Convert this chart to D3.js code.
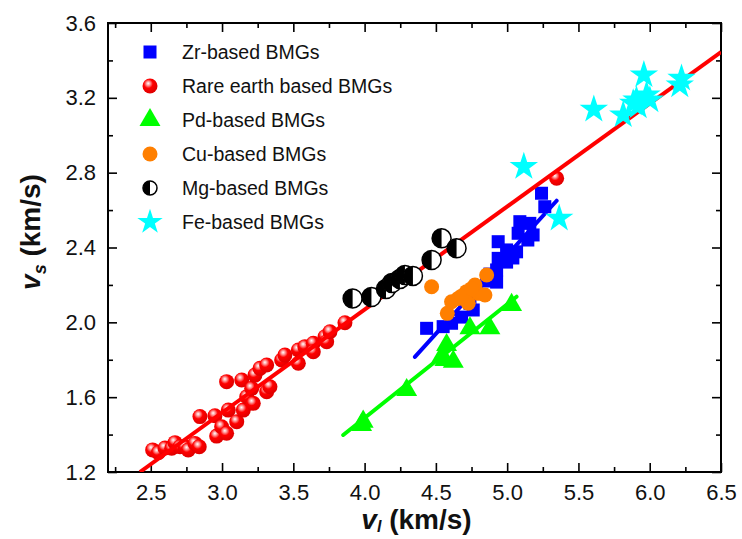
<!DOCTYPE html>
<html>
<head>
<meta charset="utf-8">
<script src="https://cdn.jsdelivr.net/npm/d3@7"></script>
<style>
  body { margin: 0; background: #fff; }
  svg { font-family: "Liberation Sans", Arial, sans-serif; }
</style>
</head>
<body>
<div id="chart"></div>
<script>
var svgWidth = 742;
var svgHeight = 539;

// plot box in pixels
var margin = { top: 23, right: 21, bottom: 67, left: 108 };
var width = svgWidth - margin.left - margin.right;
var height = svgHeight - margin.top - margin.bottom;

// ticks
var xTicks = [2.5, 3.0, 3.5, 4.0, 4.5, 5.0, 5.5, 6.0, 6.5];
var xMinor = [2.25, 2.75, 3.25, 3.75, 4.25, 4.75, 5.25, 5.75, 6.25];
var yTicks = [1.2, 1.6, 2.0, 2.4, 2.8, 3.2, 3.6];
var yMinor = [1.4, 1.8, 2.2, 2.6, 3.0, 3.4];

// data: [vl, vs]
var zrData = [[4.435,1.968],[4.551,1.977],[4.610,1.995],[4.680,2.028],[4.762,2.066],[4.739,2.102],
  [4.786,2.173],[4.856,2.221],[4.879,2.258],[4.926,2.280],[4.926,2.215],[4.937,2.342],[4.996,2.322],
  [4.937,2.431],[4.996,2.387],[5.066,2.377],[5.040,2.344],[5.077,2.476],[5.089,2.538],[5.159,2.529],
  [5.182,2.467],[5.145,2.440],[5.241,2.690],[5.264,2.618]];
var reData = [[2.513,1.318],[2.553,1.303],[2.600,1.328],[2.647,1.327],[2.670,1.357],[2.705,1.335],
  [2.740,1.335],[2.763,1.318],[2.810,1.353],[2.840,1.335],[2.845,1.496],[2.950,1.501],[2.962,1.392],
  [2.997,1.442],[3.032,1.407],[3.032,1.683],[3.044,1.531],[3.103,1.469],[3.138,1.692],[3.149,1.531],
  [3.173,1.602],[3.208,1.647],[3.219,1.567],[3.231,1.718],[3.266,1.754],[3.313,1.772],[3.313,1.629],
  [3.336,1.656],[3.418,1.799],[3.441,1.825],[3.535,1.781],[3.535,1.852],[3.581,1.870],[3.640,1.888],
  [3.640,1.843],[3.722,1.923],[3.734,1.896],[3.757,1.950],[3.862,1.998],[5.347,2.770]];
var pdData = [[3.979,1.451],[3.990,1.469],[4.295,1.638],[4.575,1.879],[4.540,1.816],[4.563,1.799],
  [4.622,1.790],[4.739,1.968],[4.879,1.968],[5.031,2.093]];
var cuData = [[4.470,2.190],[4.580,2.048],[4.610,2.110],[4.657,2.128],[4.715,2.164],[4.727,2.102],
  [4.774,2.199],[4.797,2.155],[4.844,2.146],[4.856,2.253],[4.680,2.140],[4.750,2.180]];
var mgData = [[3.916,2.128],[4.048,2.135],[4.150,2.178],[4.192,2.210],[4.248,2.232],[4.283,2.253],
  [4.339,2.248],[4.470,2.333],[4.540,2.449],[4.645,2.396]];
var feData = [[5.117,2.832],[5.365,2.556],[5.608,3.138],[5.814,3.108],[5.884,3.171],[5.907,3.188],
  [5.959,3.322],[5.978,3.215],[6.001,3.188],[5.919,3.156],[6.211,3.268],[6.223,3.304]];

// linear fits: endpoints [vl, vs]
var reFit = [[2.424,1.200],[6.500,3.445]];
var zrFit = [[4.353,1.815],[5.347,2.650]];
var pdFit = [[3.850,1.398],[5.066,2.137]];

var legendLabels = ["Zr-based BMGs", "Rare earth based BMGs", "Pd-based BMGs",
  "Cu-based BMGs", "Mg-based BMGs", "Fe-based BMGs"];

var svg = d3.select("#chart").append("svg")
    .attr("width", svgWidth)
    .attr("height", svgHeight);

var defs = svg.append("defs");
var grad = defs.append("radialGradient")
    .attr("id", "ball")
    .attr("cx", "40%").attr("cy", "38%").attr("r", "60%")
    .attr("fx", "38%").attr("fy", "32%");
grad.append("stop").attr("offset", "0%").attr("stop-color", "#ffffff");
grad.append("stop").attr("offset", "22%").attr("stop-color", "#ff9a9a");
grad.append("stop").attr("offset", "50%").attr("stop-color", "#ff0000");
grad.append("stop").attr("offset", "100%").attr("stop-color", "#e00000");

var chartGroup = svg.append("g")
    .attr("transform", `translate(${margin.left},${margin.top})`);

var xScale = d3.scaleLinear().domain([2.2, 6.5]).range([0, width]);
var yScale = d3.scaleLinear().domain([1.2, 3.6]).range([height, 0]);

// axes, ticks pointing inwards on all four sides
function drawAxis(axisFn, scale, values, size, labels, transform) {
  var g = chartGroup.append("g")
      .attr("transform", transform)
      .call(axisFn(scale).tickValues(values).tickSizeInner(-size).tickSizeOuter(0)
        .tickPadding(labels ? 12 : 0)
        .tickFormat(labels ? d3.format(".1f") : ""));
  g.select(".domain").remove();
  g.selectAll(".tick line").attr("stroke", "#000").attr("stroke-width", 1.6);
  g.selectAll(".tick text").attr("font-size", 22).attr("fill", "#111");
  return g;
}
drawAxis(d3.axisBottom, xScale, xTicks, 9, true, `translate(0,${height})`);
drawAxis(d3.axisBottom, xScale, xMinor, 5, false, `translate(0,${height})`);
drawAxis(d3.axisTop, xScale, xTicks, 9, false, "translate(0,0)");
drawAxis(d3.axisTop, xScale, xMinor, 5, false, "translate(0,0)");
drawAxis(d3.axisLeft, yScale, yTicks, 9, true, "translate(0,0)");
drawAxis(d3.axisLeft, yScale, yMinor, 5, false, "translate(0,0)");
drawAxis(d3.axisRight, yScale, yTicks, 9, false, `translate(${width},0)`);
drawAxis(d3.axisRight, yScale, yMinor, 5, false, `translate(${width},0)`);

chartGroup.append("rect")
    .attr("width", width).attr("height", height)
    .attr("fill", "none").attr("stroke", "#000").attr("stroke-width", 2);

var line = d3.line().x(d => xScale(d[0])).y(d => yScale(d[1]));
var clip = defs.append("clipPath").attr("id", "plotclip");
clip.append("rect").attr("width", width).attr("height", height);
var plot = chartGroup.append("g").attr("clip-path", "url(#plotclip)");

// symbols
var sqSize = 13;
function square(g, color) {
  g.append("rect").attr("x", -sqSize / 2).attr("y", -sqSize / 2)
    .attr("width", sqSize).attr("height", sqSize).attr("fill", color);
}
function ball(g) {
  g.append("circle").attr("r", 7.5).attr("fill", "url(#ball)");
}
function triangle(g) {
  g.append("path").attr("d", d3.symbol().type(d3.symbolTriangle).size(190)()).attr("fill", "#00ff00");
}
function dot(g) {
  g.append("circle").attr("r", 7.5).attr("fill", "#ff7f00");
}
function halfCircle(g, r) {
  g.append("circle").attr("r", r).attr("fill", "#fff");
  g.append("path").attr("d", `M0,${-r} A${r},${r} 0 0 0 0,${r} Z`).attr("fill", "#000");
  g.append("circle").attr("r", r).attr("fill", "none").attr("stroke", "#000").attr("stroke-width", 1.5);
}
function star(g, size) {
  g.append("path").attr("d", d3.symbol().type(d3.symbolStar).size(size)()).attr("fill", "#00ffff");
}

function drawPoints(data, drawFn) {
  plot.append("g").selectAll("g")
    .data(data)
    .join("g")
    .attr("transform", d => `translate(${xScale(d[0])},${yScale(d[1])})`)
    .each(function() { drawFn(d3.select(this)); });
}

drawPoints(zrData, g => square(g, "#0000ff"));
drawPoints(reData, ball);

plot.append("path").datum(reFit).attr("d", line)
  .attr("stroke", "#ff0000").attr("stroke-width", 4).attr("fill", "none");
plot.append("path").datum(zrFit).attr("d", line)
  .attr("stroke", "#0000ff").attr("stroke-width", 4).attr("stroke-linecap", "round").attr("fill", "none");

drawPoints(pdData, triangle);
plot.append("path").datum(pdFit).attr("d", line)
  .attr("stroke", "#00ff00").attr("stroke-width", 4).attr("stroke-linecap", "round").attr("fill", "none");

drawPoints(cuData, dot);
drawPoints(mgData, g => halfCircle(g, 9.5));
drawPoints(feData, g => star(g, 250));

// legend
var legendX = 150 - margin.left;
var legendY = [52, 86, 120, 154, 188, 222].map(v => v - margin.top);
var legendSym = [g => square(g, "#0000ff"), ball, triangle, dot, g => halfCircle(g, 7), g => star(g, 200)];
legendLabels.forEach(function(label, i) {
  var g = chartGroup.append("g").attr("transform", `translate(${legendX},${legendY[i]})`);
  legendSym[i](g);
  g.append("text").attr("x", 32).attr("y", 7)
    .attr("font-size", 19.5).attr("fill", "#111").text(label);
});

// axis titles
var xt = svg.append("text")
    .attr("x", margin.left + width / 2 + 2).attr("y", 529)
    .attr("text-anchor", "middle").attr("font-size", 28).attr("font-weight", "bold").attr("fill", "#111");
xt.append("tspan").attr("font-style", "italic").text("v");
xt.append("tspan").attr("font-style", "italic").attr("font-size", 16).attr("dy", 3).text("l");
xt.append("tspan").attr("dy", -3).text(" (km/s)");

var yt = svg.append("text")
    .attr("transform", "translate(40,232) rotate(-90)")
    .attr("text-anchor", "middle").attr("font-size", 28).attr("font-weight", "bold").attr("fill", "#111");
yt.append("tspan").attr("font-style", "italic").text("v");
yt.append("tspan").attr("font-style", "italic").attr("font-size", 18).attr("dy", 6).text("s");
yt.append("tspan").attr("dy", -6).text(" (km/s)");
</script>
</body>
</html>
